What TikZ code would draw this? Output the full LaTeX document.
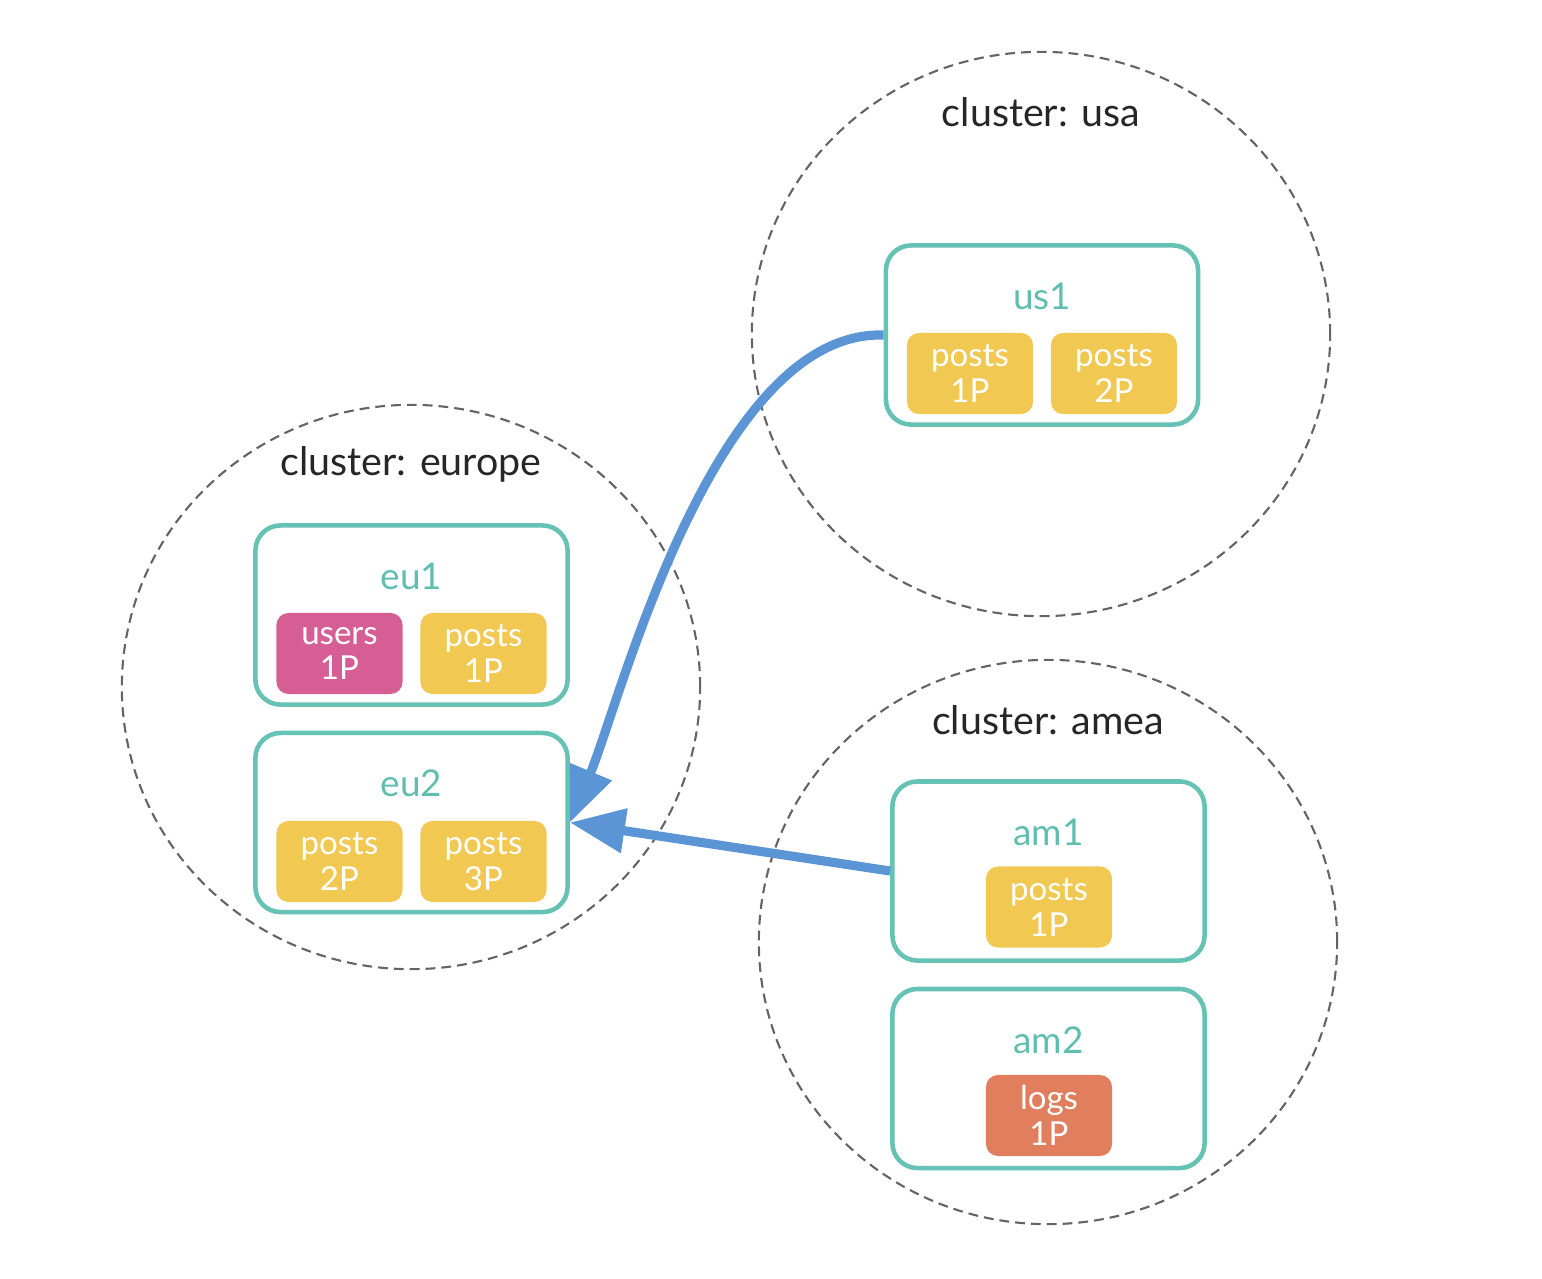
\documentclass[tikz,border=0pt]{standalone}
\usepackage{tikz}
\usetikzlibrary{arrows.meta,shapes.geometric}
\usepackage{xcolor}
\usepackage{fontspec}
\setmainfont{Lato}
\definecolor{hostline}{RGB}{102,194,181}
\definecolor{hosttext}{RGB}{96,190,176}
\definecolor{postsyellow}{RGB}{240,200,82}
\definecolor{userspink}{RGB}{214,94,148}
\definecolor{logsorange}{RGB}{225,126,93}
\definecolor{linkblue}{RGB}{91,149,213}
\definecolor{dashgray}{RGB}{100,100,100}

\begin{document}
\begin{tikzpicture}[x=0.01cm, y=-0.01cm,
    cluster/.style={ellipse, draw=dashgray, line width=0.6pt,
        dash pattern=on 2.8pt off 1.7pt, minimum width=5.78cm, minimum height=5.64cm},
    clusterlabel/.style={font=\fontsize{11.2}{13}\selectfont, text=black!85},
    host/.style={draw=hostline, line width=1.3pt, rounded corners=0.25cm,
        minimum width=3.12cm, minimum height=1.79cm},
    hostlabel/.style={font=\fontsize{10.5}{12}\selectfont, text=hosttext},
    shard/.style={rounded corners=0.12cm, minimum width=1.26cm, minimum height=0.81cm,
        inner sep=0pt, align=center, text=white, font=\fontsize{9.4}{10.2}\selectfont},
    link/.style={draw=linkblue, line width=2.6pt,
        -{Triangle[length=0.55cm, width=0.43cm, fill=linkblue]}}]
    \useasboundingbox (0,0) rectangle (1542,1278);

    % Clusters
    \node[cluster] (usa) at (1041,334) {};
    \node[cluster] (europe) at (411,687) {};
    \node[cluster] (amea) at (1048,942) {};
    \node[clusterlabel] (usalabel) at (1041,112) {cluster: usa};
    \node[clusterlabel] (europelabel) at (411,464) {cluster: europe};
    \node[clusterlabel] (amealabel) at (1048,720) {cluster: amea};

    % Hosts
    \node[host] (us1) at (1042,335) {};
    \node[host] (eu1) at (411.5,615) {};
    \node[host] (eu2) at (411.5,822.5) {};
    \node[host] (am1) at (1048.5,871) {};
    \node[host] (am2) at (1048.5,1078.5) {};
    \node[hostlabel] (us1label) at (1042,296) {us1};
    \node[hostlabel] (eu1label) at (411.5,576) {eu1};
    \node[hostlabel] (eu2label) at (411.5,783) {eu2};
    \node[hostlabel] (am1label) at (1048.5,832) {am1};
    \node[hostlabel] (am2label) at (1048.5,1040) {am2};

    % Shards
    \node[shard, fill=postsyellow] (us1posts1) at (970,373.5) {posts\\1P};
    \node[shard, fill=postsyellow] (us1posts2) at (1114,373.5) {posts\\2P};
    \node[shard, fill=userspink] (eu1users1) at (339.5,653.5) {users\\1P};
    \node[shard, fill=postsyellow] (eu1posts1) at (483.5,653.5) {posts\\1P};
    \node[shard, fill=postsyellow] (eu2posts2) at (339.5,861.5) {posts\\2P};
    \node[shard, fill=postsyellow] (eu2posts3) at (483.5,861.5) {posts\\3P};
    \node[shard, fill=postsyellow] (am1posts1) at (1049,907) {posts\\1P};
    \node[shard, fill=logsorange] (am2logs1) at (1049,1115.5) {logs\\1P};

    % Replication links
    \draw[link] (us1.west) .. controls +(-170,-5) and +(50,-120) .. (eu2.east);
    \draw[link] (am1.west) -- (eu2.east);
\end{tikzpicture}
\end{document}
